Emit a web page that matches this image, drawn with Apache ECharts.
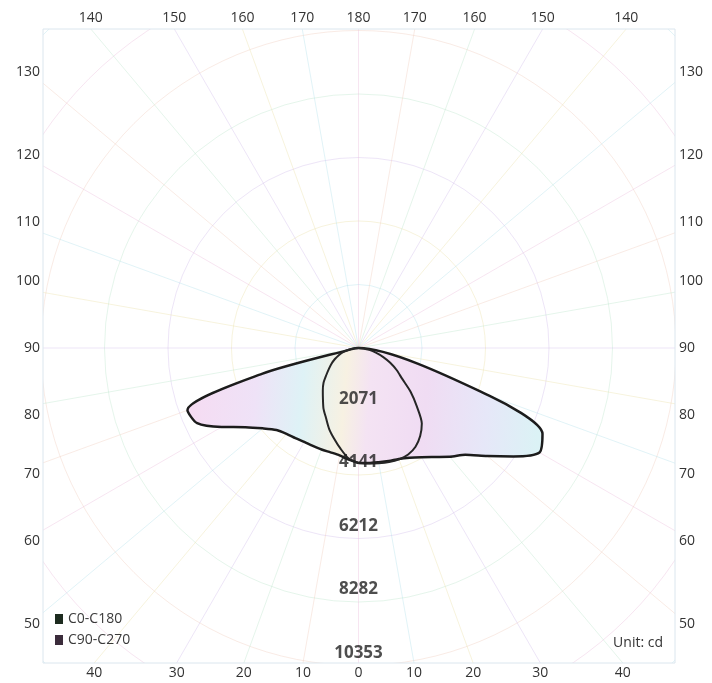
<!DOCTYPE html>
<html><head><meta charset="utf-8">
<script src="https://cdn.jsdelivr.net/npm/echarts@6/dist/echarts.min.js"></script>
<style>html,body{margin:0;padding:0;background:#fff}#c{width:712px;height:683px}</style>
</head><body><div id="c"></div>
<script>
// ---- data ----
const gamma = [0,5,10,15,20,25,30,35,40,45,50,55,60,65,70,75,80,85,90];
// C0-C180 plane (cd)
const c0   = [3750,3766,3783,3815,3848,3946,4109,4337,4631,4924,5478,6163,6815,6620,4533,0,0,0,0];
const c180 = [3750,3652,3554,3522,3522,3522,3538,3587,3652,3783,4076,4500,5152,5805,5935,3261,261,0,0];
// C90-C270 plane (cd)
const c90  = [3750,3783,3815,3848,3864,3832,3718,3506,3212,2690,2217,1728,1435,1141,848,587,359,163,0];
const c270 = [3750,3620,3343,3065,2804,2511,2283,2022,1810,1614,1370,1174,1011,848,685,522,326,163,0];
const ringLabels = [2071,4141,6212,8282,10353];
const sideLabels = [130,120,110,100,90,80,70,60,50];
const topLabels = [140,150,160,170,180,170,160,150,140];
const bottomLabels = [40,30,20,10,0,10,20,30,40];
const seriesNames = ['C0-C180','C90-C270'];

// ---- layout ----
const cx = 358.5, cy = 348;
const box = {l:43, r:675, t:29, b:663};
const ringStep = ringLabels[ringLabels.length-1]/ringLabels.length;
const pxPerRing = 63.5;
const nRings = 7;

function loop(a, b){
  const pts = gamma.map((g,i)=>[a[i], g]);
  for(let i=gamma.length-1;i>=0;i--) pts.push([b[i], 360-gamma[i]]);
  return pts;
}

const gridColors = ['rgba(236,190,220,0.4)','rgba(180,225,236,0.4)','rgba(236,226,170,0.4)','rgba(210,190,236,0.4)','rgba(190,230,205,0.4)','rgba(240,205,190,0.4)'];
const txt = {fill:'#333', fontSize:14, fontFamily:'Open Sans'};
const graphics = [];
graphics.push({type:'rect', z:100, silent:true, shape:{x:0,y:0,width:712,height:box.t}, style:{fill:'#fff'}});
graphics.push({type:'rect', z:100, silent:true, shape:{x:0,y:box.b,width:712,height:683-box.b}, style:{fill:'#fff'}});
graphics.push({type:'rect', z:100, silent:true, shape:{x:0,y:0,width:box.l,height:683}, style:{fill:'#fff'}});
graphics.push({type:'rect', z:100, silent:true, shape:{x:box.r,y:0,width:712-box.r,height:683}, style:{fill:'#fff'}});
graphics.push({type:'rect', z:101, silent:true, shape:{x:box.l,y:box.t,width:box.r-box.l,height:box.b-box.t}, style:{fill:null, stroke:'#dbe6ee', lineWidth:1}});
const rad = d => d*Math.PI/180;
const halfW = (box.r-box.l)/2;
sideLabels.forEach(a=>{
  const c = 1/Math.tan(rad(a));
  let dy = halfW*c;
  if (a !== 90) dy += (a<90 ? 11 : -11);
  const y = cy + dy;
  graphics.push({type:'text', z:102, x:40, y:y, style:Object.assign({text:String(a), align:'right', verticalAlign:'middle'}, txt)});
  graphics.push({type:'text', z:102, x:679, y:y, style:Object.assign({text:String(a), align:'left', verticalAlign:'middle'}, txt)});
});
topLabels.forEach((a,i)=>{
  const s = i < 4 ? -1 : (i === 4 ? 0 : 1);
  const x = cx + s*(cy-box.t)*Math.tan(rad(180-a));
  graphics.push({type:'text', z:102, x:x, y:18, style:Object.assign({text:String(a), align:'center', verticalAlign:'middle'}, txt)});
});
bottomLabels.forEach((a,i)=>{
  const s = i < 4 ? -1 : (i === 4 ? 0 : 1);
  const x = cx + s*(box.b-cy)*Math.tan(rad(a));
  graphics.push({type:'text', z:102, x:x, y:673, style:Object.assign({text:String(a), align:'center', verticalAlign:'middle'}, txt)});
});
graphics.push({type:'text', z:102, x:663, y:643, style:Object.assign({text:'Unit: cd', align:'right', verticalAlign:'middle'}, txt)});

const chart = echarts.init(document.getElementById('c'), null, {renderer:'canvas'});
chart.setOption({
  backgroundColor:'#fff',
  animation:false,
  polar:{center:[cx,cy], radius: pxPerRing*nRings},
  angleAxis:{type:'value', min:0, max:360, interval:10, startAngle:270, clockwise:false,
    axisLine:{show:false}, axisTick:{show:false}, axisLabel:{show:false},
    splitLine:{show:true, lineStyle:{color:gridColors, width:1}}},
  radiusAxis:{type:'value', min:0, max:ringStep*nRings, interval:ringStep,
    axisLine:{show:false}, axisTick:{show:false}, axisLabel:{show:false},
    splitLine:{show:true, lineStyle:{color:gridColors, width:1}}},
  legend:{orient:'vertical', left:50, top:607, itemWidth:8, itemHeight:10, itemGap:7, icon:'rect',
    textStyle:{fontSize:14, color:'#3a3a3a', fontFamily:'Open Sans'},
    data:[{name:seriesNames[0], itemStyle:{color:'#1d2b1f'}},{name:seriesNames[1], itemStyle:{color:'#3b2c3b'}}]},
  series:[
    {name:seriesNames[0], type:'line', coordinateSystem:'polar', data:loop(c0,c180), symbol:'none', smooth:0.25, z:2,
      itemStyle:{color:'#1d2b1f'},
      lineStyle:{color:'#1c1c1c', width:2.5},
      areaStyle:{opacity:1, color:{type:'linear', x:0,y:0,x2:1,y2:0.25, colorStops:[
        {offset:0,color:'#f6dbf2'},{offset:0.2,color:'#efe2f7'},{offset:0.33,color:'#def2f6'},
        {offset:0.45,color:'#f7f1e2'},{offset:0.52,color:'#f4e3f3'},{offset:0.68,color:'#f0dcf3'},
        {offset:0.85,color:'#e6e7f8'},{offset:1,color:'#dbf2f5'}]}}},
    {name:seriesNames[1], type:'line', coordinateSystem:'polar', data:loop(c90,c270), symbol:'none', smooth:0.25, z:3,
      itemStyle:{color:'#3b2c3b'},
      lineStyle:{color:'#262626', width:2}},
    {type:'scatter', coordinateSystem:'polar', data:ringLabels.map(v=>[v,0]), symbolSize:0, silent:true, z:10,
      label:{show:true, position:'top', distance:4, formatter:p=>String(p.value[0]),
        fontSize:17, fontWeight:'bold', color:'#222', fontFamily:'Open Sans'}}
  ],
  graphic: graphics
});
</script></body></html>
